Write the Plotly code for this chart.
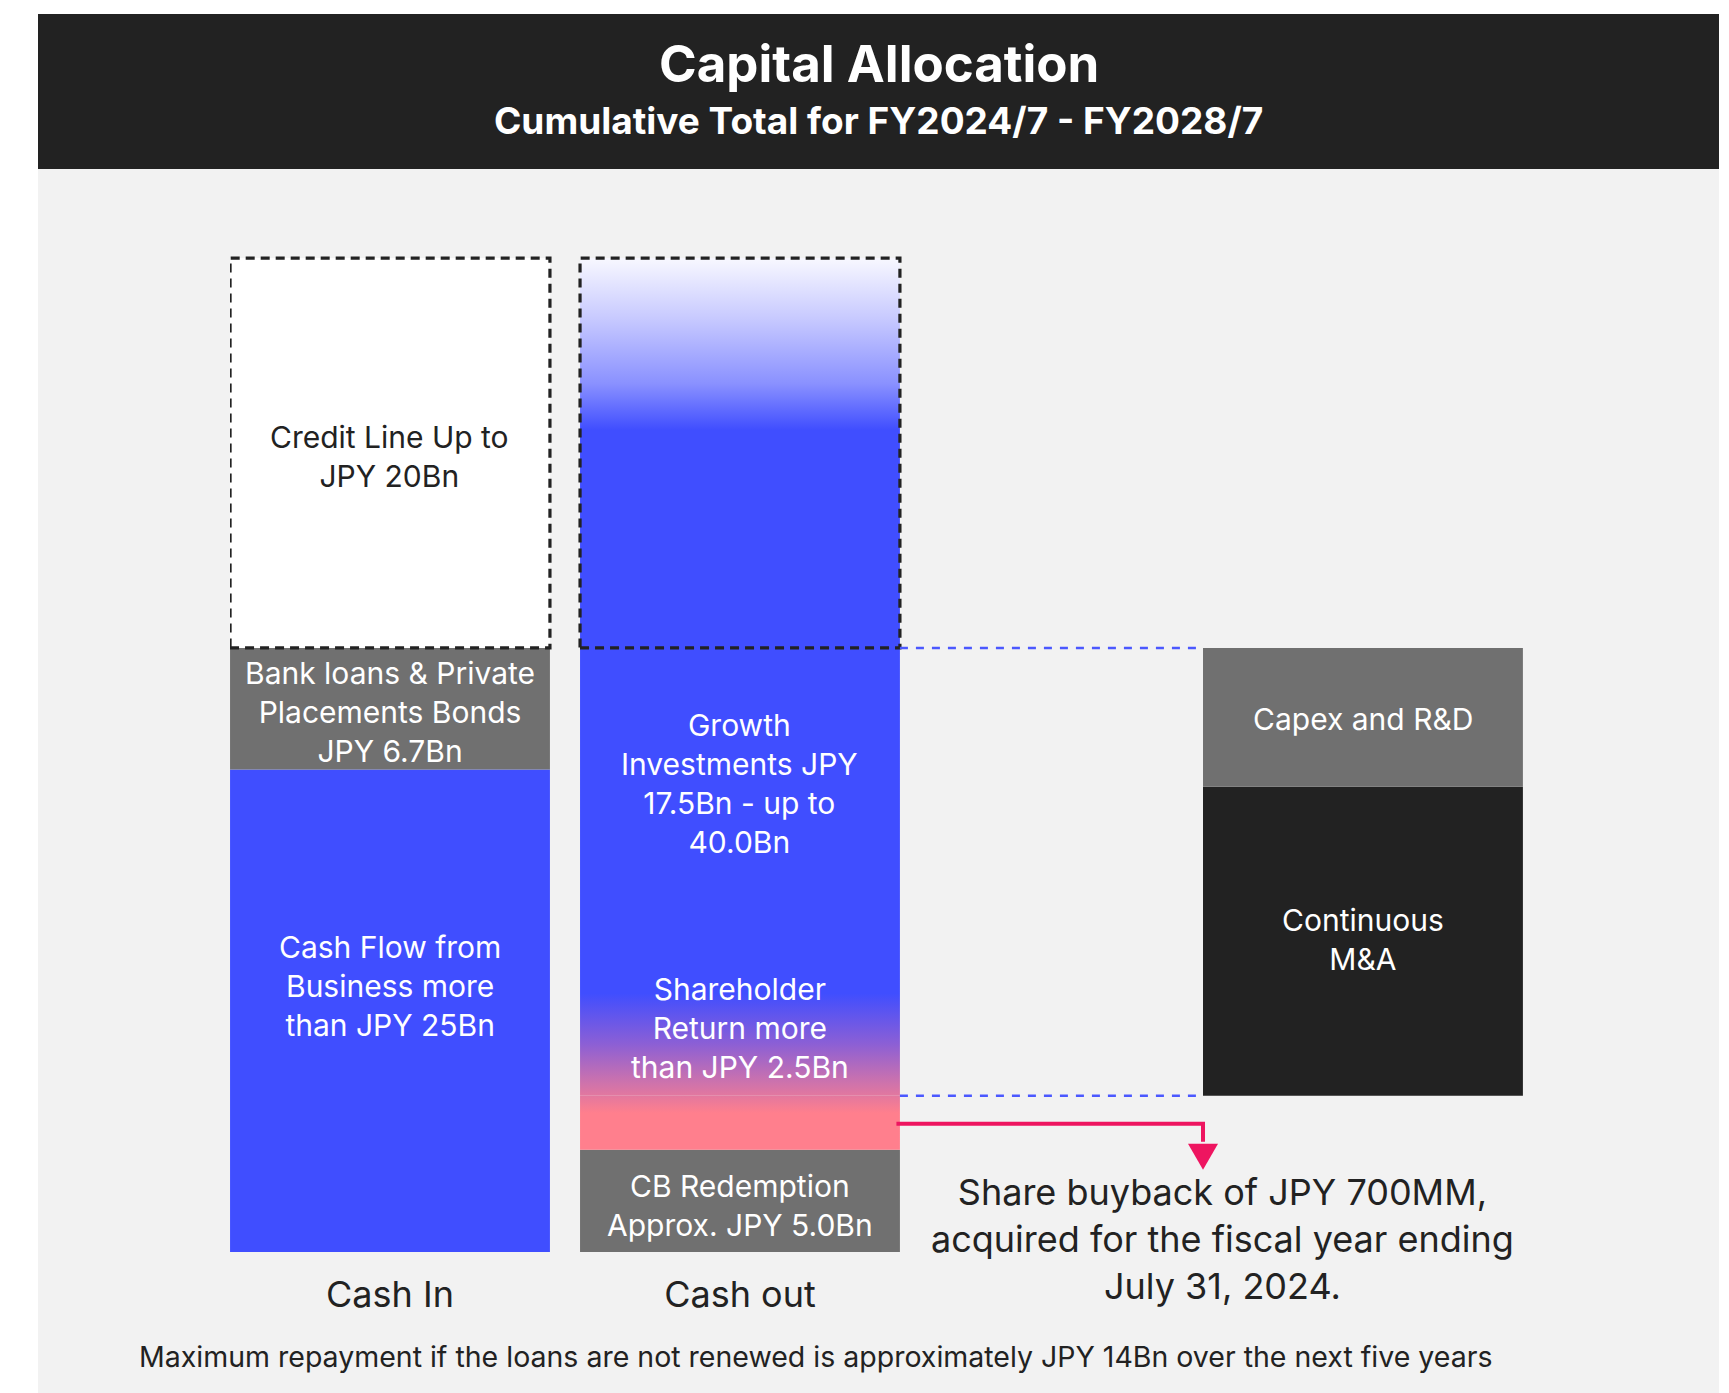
import plotly.graph_objects as go

# ---------------- data (segment heights in axis units, ~JPY Bn as drawn) ----------------
categories = ["Cash In", "Cash out"]
bar_pos = [0.0, 1.0, 2.78]          # Cash In, Cash out, growth breakdown
bar_width = 0.914

cash_in_labels = ["Cash Flow from<br>Business more<br>than JPY 25Bn",
                  "Bank loans & Private<br>Placements Bonds<br>JPY 6.7Bn",
                  "Credit Line Up to<br>JPY 20Bn"]
cash_in_values = [25.0, 6.3, 20.2]

cash_out_labels = ["CB Redemption<br>Approx. JPY 5.0Bn",
                   "Shareholder<br>Return more<br>than JPY 2.5Bn",
                   "Growth<br>Investments JPY<br>17.5Bn - up to<br>40.0Bn",
                   ""]
cash_out_values = [5.3, 2.8, 23.2, 20.2]

growth_labels = ["Continuous<br>M&A", "Capex and R&D"]
growth_values = [16.0, 7.2]

# label vertical positions (axis units)
cash_in_label_y = [13.8, 28.0, 41.2]
cash_out_label_y = [2.4, 11.6, 24.3, None]
growth_label_y = [16.2, 27.6]

title = "Capital Allocation"
subtitle = "Cumulative Total for FY2024/7 - FY2028/7"
buyback_note = "Share buyback of JPY 700MM,<br>acquired for the fiscal year ending<br>July 31, 2024."
footnote = "Maximum repayment if the loans are not renewed is approximately JPY 14Bn over the next five years"

# ---------------- styles ----------------
BLUE = "#404eff"
GRAY = "#707070"
DARK = "#222222"
PANEL = "#f2f2f2"
PINK_ARROW = "#ee1560"
DASH_BLUE = "#4b58ff"
FONT = "Inter"
BOX_FONT = 30

# gradient stops (absolute axis value, colour) for the cash-out column
grad_y = [5.3, 7.2, 9.07, 10.83, 13.4, 42.6, 45.0, 48.4, 51.5]
grad_c = ["#ff7f8d", "#ff7f8d", "#c470b2", "#8a5fd6", BLUE, BLUE, "#8a91ff", "#c8caff", "#f8f8ff"]

W, H = 1729, 1393
ML, MR, MT, MB = 230, 206, 200, 141
PX_PER_X = 350.0
PX_PER_Y = 19.3
plot_w = W - ML - MR
plot_h = H - MT - MB
x_range = [-(bar_width / 2) - 0.00014, -(bar_width / 2) + plot_w / PX_PER_X]
y_range = [0, plot_h / PX_PER_Y]


def px_to_paper(px, py):
    return (px - ML) / plot_w, (H - MB - py) / plot_h


def cumbase(vals):
    out, s = [], 0.0
    for v in vals:
        out.append(s)
        s += v
    return out


def rect(xc, b, t):
    h = bar_width / 2
    return [xc - h, xc + h, xc + h, xc - h, xc - h], [b, b, t, t, b]


fig = go.Figure()

# ---- Cash In ----
ci_base = cumbase(cash_in_values)
fig.add_bar(x=[bar_pos[0]], y=[cash_in_values[0]], base=[ci_base[0]], width=bar_width,
            marker=dict(color=BLUE, line=dict(width=0)), hoverinfo="skip")
fig.add_bar(x=[bar_pos[0]], y=[cash_in_values[1]], base=[ci_base[1]], width=bar_width,
            marker=dict(color=GRAY, line=dict(width=0)), hoverinfo="skip")
xs, ys = rect(bar_pos[0], ci_base[2], ci_base[2] + cash_in_values[2])
fig.add_scatter(x=xs, y=ys, mode="lines", fill="toself", fillcolor="white",
                line=dict(color=DARK, width=3.2, dash="9px,6px"), hoverinfo="skip")

# ---- Cash out ----
co_base = cumbase(cash_out_values)
fig.add_bar(x=[bar_pos[1]], y=[cash_out_values[0]], base=[co_base[0]], width=bar_width,
            marker=dict(color=GRAY, line=dict(width=0)), hoverinfo="skip")
g0, g1 = grad_y[0], grad_y[-1]
cscale = [[(y - g0) / (g1 - g0), c] for y, c in zip(grad_y, grad_c)]
for i in (1, 2, 3):
    xs, ys = rect(bar_pos[1], co_base[i], co_base[i] + cash_out_values[i])
    dashed = (i == 3)
    fig.add_scatter(x=xs, y=ys, mode="lines", fill="toself",
                    fillgradient=dict(type="vertical", colorscale=cscale, start=g0, stop=g1),
                    line=dict(color=DARK if dashed else "rgba(0,0,0,0)",
                              width=3.2 if dashed else 0, dash="9px,6px"),
                    hoverinfo="skip")

# ---- Growth breakdown ----
growth_base0 = co_base[2]
gr_base = [growth_base0 + b for b in cumbase(growth_values)]
fig.add_bar(x=[bar_pos[2]], y=[growth_values[0]], base=[gr_base[0]], width=bar_width,
            marker=dict(color=DARK, line=dict(width=0)), hoverinfo="skip")
fig.add_bar(x=[bar_pos[2]], y=[growth_values[1]], base=[gr_base[1]], width=bar_width,
            marker=dict(color=GRAY, line=dict(width=0)), hoverinfo="skip")

# ---- connector dashed lines ----
x_left = bar_pos[1] + bar_width / 2
x_right = bar_pos[2] - bar_width / 2
growth_top = co_base[2] + cash_out_values[2]
for yv in (growth_top, growth_base0):
    fig.add_scatter(x=[x_left, x_right], y=[yv, yv], mode="lines",
                    line=dict(color=DASH_BLUE, width=2.5, dash="8px,8px"), hoverinfo="skip")

# ---- buyback arrow ----
y_arrow = co_base[1] + cash_out_values[1] / 2 - 0.05
head_top = y_arrow - 20 / PX_PER_Y
head_tip = y_arrow - 46 / PX_PER_Y
head_hw = 15 / PX_PER_X
fig.add_scatter(x=[x_left - 0.01, x_right, x_right], y=[y_arrow, y_arrow, head_top + 0.1],
                mode="lines", line=dict(color=PINK_ARROW, width=4), hoverinfo="skip")
fig.add_scatter(x=[x_right - head_hw, x_right + head_hw, x_right, x_right - head_hw],
                y=[head_top, head_top, head_tip, head_top], mode="lines", fill="toself",
                fillcolor=PINK_ARROW, line=dict(color=PINK_ARROW, width=0), hoverinfo="skip")

# ---- labels inside bars ----
ann = []
for lab, yy in zip(cash_in_labels, cash_in_label_y):
    col = DARK if "Credit" in lab else "white"
    ann.append(dict(x=bar_pos[0], y=yy, text=lab, showarrow=False,
                    font=dict(size=BOX_FONT, color=col, family=FONT)))
for lab, yy in zip(cash_out_labels, cash_out_label_y):
    if lab:
        ann.append(dict(x=bar_pos[1], y=yy, text=lab, showarrow=False,
                        font=dict(size=BOX_FONT, color="white", family=FONT)))
for lab, yy in zip(growth_labels, growth_label_y):
    ann.append(dict(x=bar_pos[2], y=yy, text=lab, showarrow=False,
                    font=dict(size=BOX_FONT, color="white", family=FONT)))

# ---- header / notes ----
tx, ty = px_to_paper(878.5, 63)
ann.append(dict(xref="paper", yref="paper", x=tx, y=ty, text="<b>%s</b>" % title, showarrow=False,
                font=dict(size=51, color="white", family=FONT), xanchor="center", yanchor="middle"))
tx, ty = px_to_paper(878.5, 121)
ann.append(dict(xref="paper", yref="paper", x=tx, y=ty, text="<b>%s</b>" % subtitle, showarrow=False,
                font=dict(size=37, color="white", family=FONT), xanchor="center", yanchor="middle"))
tx, ty = px_to_paper(1222, 1239)
ann.append(dict(xref="paper", yref="paper", x=tx, y=ty, text=buyback_note, showarrow=False,
                font=dict(size=36, color=DARK, family=FONT), xanchor="center", yanchor="middle"))
tx, ty = px_to_paper(815, 1356)
ann.append(dict(xref="paper", yref="paper", x=tx, y=ty, text=footnote, showarrow=False,
                font=dict(size=28.5, color=DARK, family=FONT), xanchor="center", yanchor="middle"))

# ---- background panels ----
px0, py0 = px_to_paper(38, 1393)
px1, py1 = px_to_paper(1719, 169)
_, py2 = px_to_paper(0, 14)
shapes = [
    dict(type="rect", xref="paper", yref="paper", x0=px0, x1=px1, y0=py0, y1=py1,
         fillcolor=PANEL, line=dict(width=0), layer="below"),
    dict(type="rect", xref="paper", yref="paper", x0=px0, x1=px1, y0=py1, y1=py2,
         fillcolor=DARK, line=dict(width=0), layer="below"),
]

fig.update_layout(
    width=W, height=H,
    margin=dict(l=ML, r=MR, t=MT, b=MB),
    paper_bgcolor="white", plot_bgcolor="rgba(0,0,0,0)",
    barmode="overlay", showlegend=False,
    annotations=ann, shapes=shapes,
    xaxis=dict(range=x_range, tickvals=bar_pos[:2], ticktext=categories,
               showgrid=False, zeroline=False, showline=False, ticks="",
               tickfont=dict(size=36, color=DARK, family=FONT), ticklabelstandoff=18,
               fixedrange=True),
    yaxis=dict(range=y_range, visible=False, showgrid=False, zeroline=False, fixedrange=True),
    font=dict(family=FONT),
)

fig.write_html("out.html", config={"displayModeBar": False})
